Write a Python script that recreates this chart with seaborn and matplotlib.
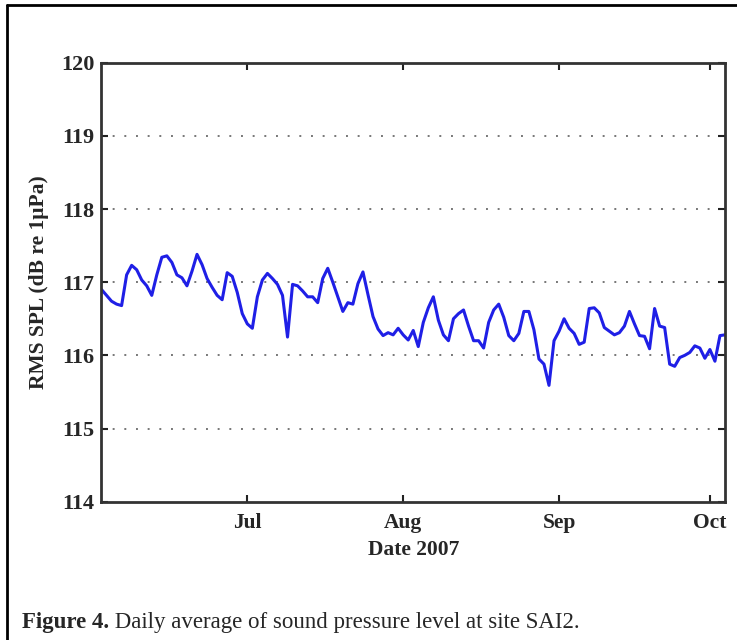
import numpy as np
import pandas as pd
import matplotlib
matplotlib.use("Agg")
import matplotlib.pyplot as plt
import matplotlib.dates as mdates
from matplotlib.lines import Line2D
import seaborn as sns

# ---- data (daily average RMS SPL, 2007-06-02 .. 2007-10-04) ----
start_date = "2007-06-02"
spl_values = [
    116.90, 116.82, 116.74, 116.70, 116.68, 117.10, 117.23, 117.17, 117.03, 116.95,
    116.82, 117.10, 117.34, 117.36, 117.27, 117.10, 117.06, 116.95, 117.15, 117.38,
    117.24, 117.05, 116.93, 116.82, 116.76, 117.13, 117.08, 116.86, 116.57, 116.43,
    116.37, 116.80, 117.03, 117.12, 117.05, 116.97, 116.82, 116.25, 116.97, 116.95,
    116.88, 116.80, 116.80, 116.72, 117.05, 117.19, 117.00, 116.80, 116.60, 116.72,
    116.70, 116.98, 117.14, 116.83, 116.53, 116.36, 116.27, 116.31, 116.28, 116.37,
    116.28, 116.21, 116.34, 116.12, 116.45, 116.65, 116.80, 116.48, 116.28, 116.20,
    116.50, 116.57, 116.62, 116.40, 116.20, 116.20, 116.10, 116.45, 116.62, 116.70,
    116.52, 116.27, 116.20, 116.30, 116.60, 116.60, 116.35, 115.95, 115.88, 115.59,
    116.20, 116.33, 116.50, 116.37, 116.30, 116.15, 116.18, 116.64, 116.65, 116.58,
    116.38, 116.33, 116.28, 116.31, 116.40, 116.60, 116.43, 116.27, 116.26, 116.09,
    116.64, 116.40, 116.38, 115.88, 115.85, 115.97, 116.00, 116.04, 116.13, 116.10,
    115.96, 116.08, 115.92, 116.27, 116.28,
]
tick_dates = ["2007-07-01", "2007-08-01", "2007-09-01", "2007-10-01"]
tick_labels = ["Jul", "Aug", "Sep", "Oct"]
y_ticks = [114, 115, 116, 117, 118, 119, 120]
x_label = "Date 2007"
y_label = "RMS SPL (dB re 1\u03bcPa)"
caption_bold = "Figure 4."
caption_rest = " Daily average of sound pressure level at site SAI2."

dates = pd.date_range(start_date, periods=len(spl_values), freq="D")
df = pd.DataFrame({"date": dates, "spl": spl_values})

sns.set_style("white")
plt.rcParams["font.family"] = ["Liberation Serif", "DejaVu Serif"]

fig = plt.figure(figsize=(7.37, 6.4), dpi=100)
ax = fig.add_axes([0.1377, 0.2161, 0.846, 0.686])

sns.lineplot(data=df, x="date", y="spl", ax=ax, color="#1f1fe6", linewidth=2.2)

ax.set_xlim(dates[0], dates[-1])
ax.set_ylim(114, 120)
ax.set_yticks(y_ticks)
ax.set_yticklabels([str(v) for v in y_ticks], fontweight="bold", fontsize=16)
ax.set_xticks(pd.to_datetime(tick_dates))
ax.set_xticklabels(tick_labels, fontweight="bold", fontsize=15.5)

ax.set_xlabel(x_label, fontweight="bold", fontsize=15.5, labelpad=5)
ax.set_ylabel(y_label, fontweight="bold", fontsize=15.5, labelpad=9)

# MATLAB-like styling
for s in ax.spines.values():
    s.set_visible(True)
    s.set_color("#333333")
    s.set_linewidth(2.0)
ax.tick_params(direction="in", length=5, width=1.5, color="#222222",
               top=True, right=True, left=True, bottom=True)
ax.tick_params(axis="y", pad=5)
ax.tick_params(axis="x", pad=8)
ax.grid(False)
for yv in y_ticks[1:-1]:
    ax.axhline(yv, color="#777777", linestyle=(0, (1, 5)), linewidth=1.4, zorder=0)

# page border and caption
fig.add_artist(Line2D([7 / 737, 7 / 737], [0, 1 - 5 / 640], transform=fig.transFigure,
                      color="black", linewidth=2))
fig.add_artist(Line2D([7 / 737, 1], [1 - 5 / 640, 1 - 5 / 640], transform=fig.transFigure,
                      color="black", linewidth=2))

t1 = fig.text(22 / 737, 1 - 628 / 640, caption_bold, fontweight="bold", fontsize=16.5,
              ha="left", va="baseline")
fig.canvas.draw()
bb = t1.get_window_extent()
x_next = bb.x1 / fig.bbox.width
fig.text(x_next, 1 - 628 / 640, caption_rest, fontsize=16.5, ha="left", va="baseline")

fig.savefig("out.png", dpi=100)
